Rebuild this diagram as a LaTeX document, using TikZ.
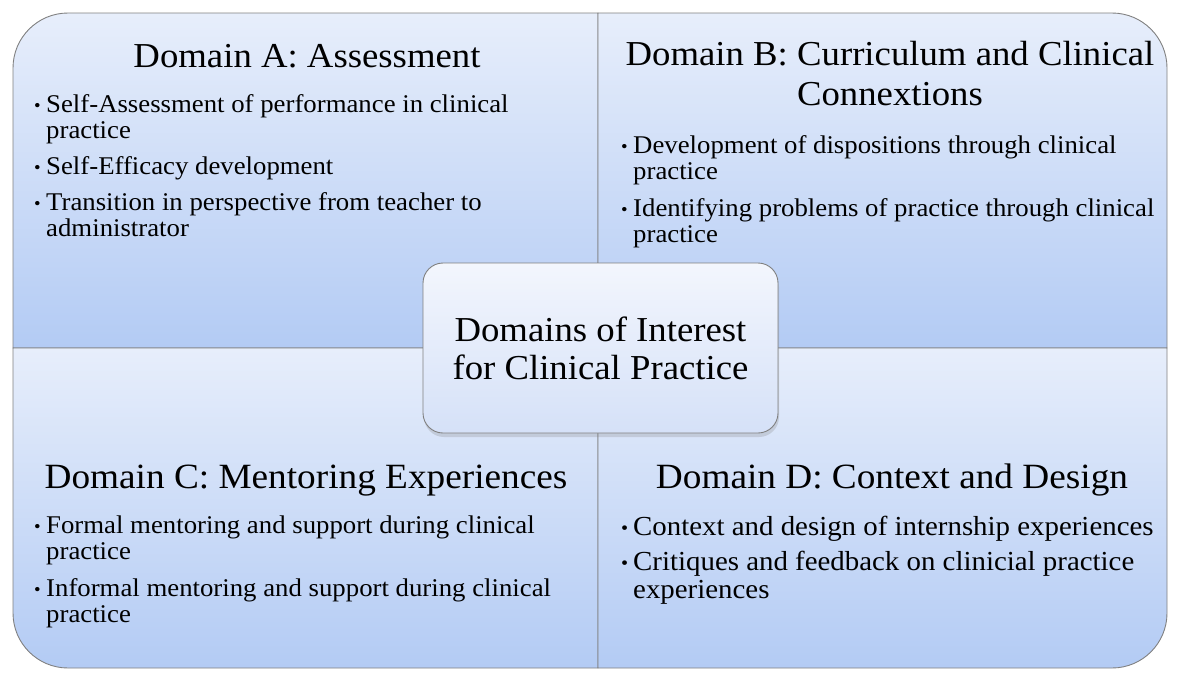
\documentclass[tikz,border=0pt]{standalone}
\usepackage{fontspec}
\setmainfont{Liberation Serif}[FakeStretch=1.05]
\usepackage{xcolor}
\usetikzlibrary{shadows}

\definecolor{quadtop}{HTML}{E7EEFB}
\definecolor{quadbot}{HTML}{B3CBF4}
\definecolor{hubtop}{HTML}{F3F6FD}
\definecolor{hubbot}{HTML}{D5E1F8}
\definecolor{edge}{HTML}{808080}

\newcommand{\bul}{\makebox[12pt][l]{\raisebox{1pt}{\scalebox{0.7}{\textbullet}}}}
\newcommand{\ind}{\hspace*{12pt}}

\tikzset{
  quad/.style={draw=edge, line width=0.9pt, top color=quadtop, bottom color=quadbot},
  head/.style={anchor=base, inner sep=0pt, align=center, font=\fontsize{35}{40}\selectfont},
  items/.style={anchor=base west, inner sep=0pt, align=left, font=\fontsize{25.5}{26}\selectfont},
  hub/.style={rectangle, rounded corners=20pt, minimum width=355pt, minimum height=170pt,
    draw=edge, line width=0.9pt, top color=hubtop, bottom color=hubbot, align=center,
    font=\fontsize{35}{38}\selectfont,
    drop shadow={shadow xshift=1pt, shadow yshift=-4pt, opacity=0.25}}
}

\begin{document}
\begin{tikzpicture}[x=1pt, y=1pt]
  \useasboundingbox (0,0) rectangle (1180,-680);

  % Quadrants
  \path[quad] (598,-348) -- (13,-348) -- (13,-68)
    arc[start angle=180, end angle=90, radius=55pt] -- (598,-13) -- cycle;
  \path[quad] (598,-348) -- (598,-13) -- (1112,-13)
    arc[start angle=90, end angle=0, radius=55pt] -- (1167,-348) -- cycle;
  \path[quad] (598,-348) -- (13,-348) -- (13,-613)
    arc[start angle=180, end angle=270, radius=55pt] -- (598,-668) -- cycle;
  \path[quad] (598,-348) -- (1167,-348) -- (1167,-613)
    arc[start angle=0, end angle=-90, radius=55pt] -- (598,-668) -- cycle;

  % Centre
  \node[hub] (hub) at (600.5,-348) {Domains of Interest\\for Clinical Practice};

  % Headings (base = last line)
  \node[head] (ha) at (307,-67) {Domain A: Assessment};
  \node[head] (hb) at (890,-105) {Domain B: Curriculum and Clinical\\Connextions};
  \node[head, font=\fontsize{35.5}{40}\selectfont] (hc) at (306,-488) {Domain C: Mentoring Experiences};
  \node[head, font=\fontsize{35.5}{40}\selectfont] (hd) at (892,-488) {Domain D: Context and Design};

  % Bullet lists (base = last line)
  \node[items] (la) at (34,-236) {%
    \bul Self-Assessment of performance in clinical\\
    \ind practice\\[10pt]
    \bul Self-Efficacy development\\[10pt]
    \bul Transition in perspective from teacher to\\
    \ind administrator};
  \node[items] (lb) at (621,-242) {%
    \bul Development of dispositions through clinical\\
    \ind practice\\[11pt]
    \bul Identifying problems of practice through clinical\\
    \ind practice};
  \node[items] (lc) at (34,-622) {%
    \bul Formal mentoring and support during clinical\\
    \ind practice\\[11pt]
    \bul Informal mentoring and support during clinical\\
    \ind practice};
  \node[items, font=\fontsize{27.5}{28}\selectfont] (ld) at (621,-598) {%
    \bul Context and design of internship experiences\\[7pt]
    \bul Critiques and feedback on clinicial practice\\
    \ind experiences};
\end{tikzpicture}
\end{document}
